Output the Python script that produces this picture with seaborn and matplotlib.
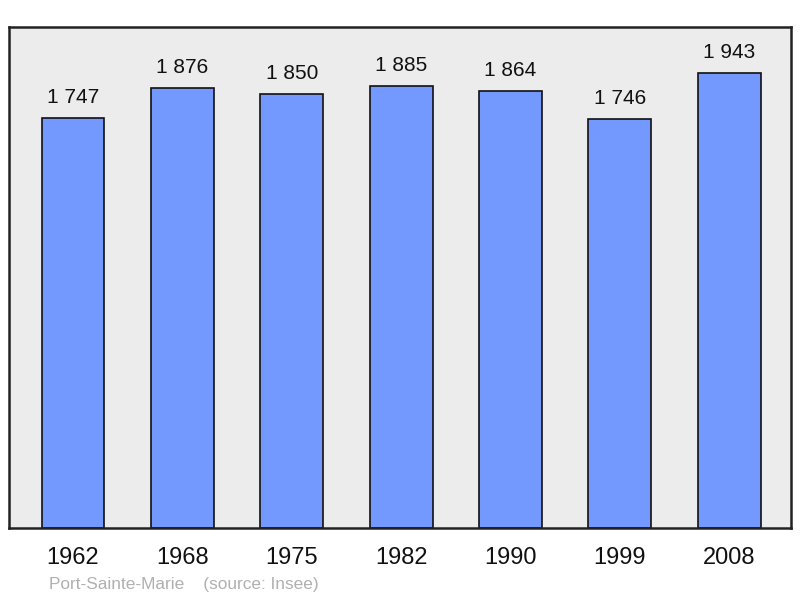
import matplotlib
matplotlib.use('Agg')
import matplotlib.pyplot as plt
import seaborn as sns
import pandas as pd

# Population data
years = ['1962', '1968', '1975', '1982', '1990', '1999', '2008']
population = [1747, 1876, 1850, 1885, 1864, 1746, 1943]
town = 'Port-Sainte-Marie'
source = '(source: Insee)'

sns.set_style('white')
plt.rcParams['font.family'] = ['Liberation Sans', 'DejaVu Sans']

df = pd.DataFrame({'year': years, 'population': population})

fig = plt.figure(figsize=(8, 5.98), dpi=100)
ax = fig.add_axes([9 / 800, 70 / 598, 782 / 800, 501 / 598])
ax.set_facecolor('#ececec')

sns.barplot(data=df, x='year', y='population', color='#7399ff', saturation=1,
            width=0.575, edgecolor='#111111', linewidth=1.2, ax=ax)

# Value labels above the bars
for i, v in enumerate(population):
    label = f'{v:,}'.replace(',', ' ')
    ax.annotate(label, (i, v), xytext=(0, 10.8), textcoords='offset points',
                ha='center', va='baseline', fontsize=15, color='#111111')

ax.set_xlim(-0.585, 6.565)
ax.set_ylim(0, max(population) * 1.1)
ax.set_yticks([])
ax.set_xlabel('')
ax.set_ylabel('')
ax.tick_params(axis='x', length=0, pad=14, labelsize=17, labelcolor='#111111')
for s in ax.spines.values():
    s.set_visible(True)
    s.set_color('#222222')
    s.set_linewidth(1.8)

# Footer
fig.text(49 / 800, 1 - 584 / 598, town + '    ' + source, fontsize=12.4,
         color='#b0b0b0', ha='left', va='center')

fig.savefig('out.png', dpi=100)
